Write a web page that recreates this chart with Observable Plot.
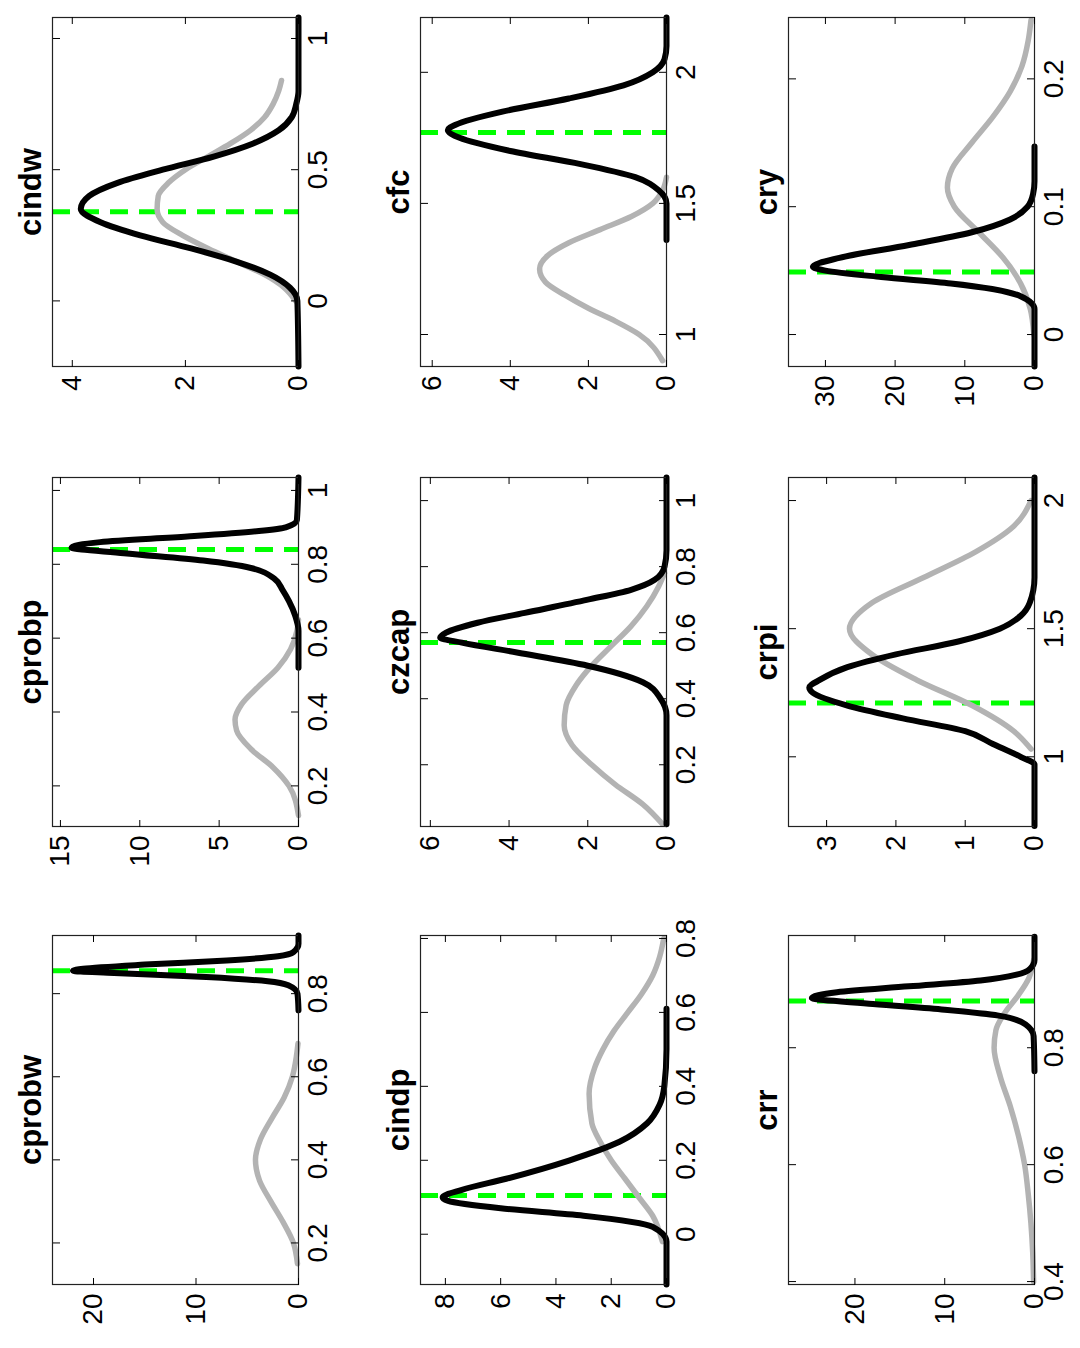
<!DOCTYPE html>
<html>
<head>
<meta charset="UTF-8" />
<script src="https://cdn.jsdelivr.net/npm/d3@7"></script>
<script src="https://cdn.jsdelivr.net/npm/@observablehq/plot@0.6"></script>
<style>
  body { margin: 0; width: 1080px; height: 1348px; overflow: hidden; background: #fff; }
  #fig { position: absolute; left: 0; top: 0; width: 1348px; height: 1080px;
         transform-origin: 0 0; transform: translateY(1348px) rotate(-90deg); }
  #fig svg { position: absolute; font-family: "Liberation Sans", Arial, sans-serif; }
</style>
</head>
<body>
<div id="fig"></div>
<script>
// prior (grey) and posterior (black) curves, [parameter, density]
const cprobwPrior = [[0.15,0.1],[0.2,0.5],[0.25,1.5],[0.3,2.7],[0.35,3.8],[0.4,4.2],[0.45,3.7],[0.5,2.6],[0.55,1.4],[0.6,0.6],[0.65,0.2],[0.68,0.05]];
const cprobwPost = [[0.76,0],[0.8,0.1],[0.82,1],[0.83,3],[0.84,9],[0.85,18],[0.855,22],[0.86,21],[0.87,15],[0.88,7],[0.89,2],[0.9,0.5],[0.92,0],[0.94,0]];
const cprobpPrior = [[0.12,0],[0.2,0.6],[0.25,1.6],[0.3,3],[0.35,3.9],[0.38,4],[0.42,3.6],[0.47,2.5],[0.52,1.3],[0.57,0.5],[0.62,0.1],[0.65,0]];
const cprobpPost = [[0.52,0],[0.62,0],[0.66,0.2],[0.7,0.6],[0.73,1],[0.76,1.5],[0.79,3],[0.81,6],[0.83,11],[0.845,14.3],[0.86,12.5],[0.875,7],[0.89,2.5],[0.9,0.8],[0.92,0.1],[1.035,0]];
const cindwPrior = [[0,0.05],[0.05,0.25],[0.1,0.6],[0.15,1.1],[0.2,1.6],[0.25,2.05],[0.3,2.4],[0.35,2.5],[0.4,2.48],[0.45,2.3],[0.5,2.0],[0.55,1.6],[0.6,1.2],[0.65,0.85],[0.7,0.6],[0.75,0.45],[0.8,0.35],[0.84,0.3]];
const cindwPost = [[-0.25,0],[0,0.02],[0.05,0.15],[0.1,0.5],[0.15,1.1],[0.2,1.9],[0.25,2.8],[0.3,3.5],[0.35,3.85],[0.4,3.7],[0.45,3.2],[0.5,2.4],[0.55,1.5],[0.6,0.8],[0.65,0.35],[0.7,0.12],[0.75,0.04],[0.8,0],[1.08,0]];
const cindpPrior = [[-0.02,0.15],[0.05,0.5],[0.1,1],[0.15,1.5],[0.2,2.0],[0.25,2.4],[0.3,2.7],[0.38,2.8],[0.45,2.6],[0.5,2.3],[0.55,1.9],[0.6,1.4],[0.65,0.9],[0.7,0.5],[0.75,0.25],[0.8,0.1]];
const cindpPost = [[-0.136,0],[-0.02,0],[0.02,0.5],[0.05,3],[0.07,6],[0.09,7.9],[0.1,8.1],[0.12,7.4],[0.15,5.8],[0.2,3.5],[0.25,1.7],[0.3,0.7],[0.35,0.25],[0.4,0.08],[0.5,0],[0.61,0]];
const czcapPrior = [[0.02,0.1],[0.08,0.6],[0.14,1.3],[0.2,1.9],[0.26,2.4],[0.32,2.6],[0.38,2.55],[0.44,2.3],[0.5,1.9],[0.56,1.4],[0.62,0.9],[0.68,0.5],[0.74,0.2],[0.78,0.05]];
const czcapPost = [[0.02,0],[0.35,0],[0.4,0.15],[0.45,0.6],[0.5,2],[0.54,3.8],[0.57,5.2],[0.585,5.75],[0.6,5.6],[0.63,4.8],[0.66,3.6],[0.7,2],[0.73,0.9],[0.76,0.3],[0.8,0.05],[0.85,0],[1.07,0]];
const cfcPrior = [[0.9,0.1],[1.0,0.7],[1.05,1.3],[1.1,2],[1.15,2.6],[1.2,3.1],[1.25,3.25],[1.3,3.05],[1.35,2.5],[1.4,1.7],[1.45,0.9],[1.5,0.35],[1.55,0.1],[1.6,0]];
const cfcPost = [[1.36,0],[1.5,0],[1.55,0.2],[1.6,0.8],[1.65,2.2],[1.7,4],[1.75,5.3],[1.78,5.6],[1.8,5.4],[1.85,4.2],[1.9,2.5],[1.95,1.1],[2.0,0.35],[2.05,0.05],[2.1,0],[2.209,0]];
const crrPrior = [[0.4,0.1],[0.45,0.2],[0.5,0.4],[0.55,0.7],[0.6,1.1],[0.65,1.8],[0.7,2.7],[0.75,3.8],[0.8,4.5],[0.83,4.3],[0.86,3.3],[0.89,1.8],[0.92,0.6],[0.95,0.1]];
const crrPost = [[0.76,0],[0.82,0.1],[0.84,1],[0.855,4],[0.865,10],[0.875,18],[0.885,24.8],[0.895,22],[0.905,14],[0.915,6],[0.925,2],[0.935,0.5],[0.95,0],[0.99,0]];
const crpiPrior = [[1.03,0.05],[1.1,0.3],[1.2,0.9],[1.3,1.7],[1.4,2.35],[1.5,2.67],[1.6,2.35],[1.7,1.6],[1.8,0.85],[1.9,0.3],[2.0,0.05]];
const crpiPost = [[0.73,0],[0.97,0],[1.0,0.2],[1.05,0.6],[1.1,1.0],[1.15,1.9],[1.2,2.7],[1.25,3.2],[1.27,3.25],[1.3,3.1],[1.35,2.7],[1.4,2.0],[1.45,1.1],[1.5,0.5],[1.55,0.2],[1.6,0.07],[1.7,0],[2.09,0]];
const cryPrior = [[0,0.1],[0.02,0.6],[0.04,2],[0.06,4.5],[0.08,8],[0.1,11.5],[0.115,12.5],[0.13,11.8],[0.15,9],[0.17,6],[0.19,3.5],[0.21,1.8],[0.23,0.9],[0.246,0.5]];
const cryPost = [[-0.025,0],[0.02,0],[0.03,2],[0.04,12],[0.045,22],[0.05,30],[0.053,31.8],[0.06,28],[0.07,18],[0.08,9],[0.09,3.5],[0.1,1],[0.11,0.2],[0.12,0],[0.147,0]];

const names = ["cprobw","cprobp","cindw","cindp","czcap","cfc","crr","crpi","cry"];
const priors = [cprobwPrior,cprobpPrior,cindwPrior,cindpPrior,czcapPrior,cfcPrior,crrPrior,crpiPrior,cryPrior];
const posts = [cprobwPost,cprobpPost,cindwPost,cindpPost,czcapPost,cfcPost,crrPost,crpiPost,cryPost];
const modes = [0.855,0.84,0.34,0.105,0.57,1.77,0.88,1.21,0.049];
const xDomains = [[0.1,0.94],[0.09,1.035],[-0.25,1.08],[-0.136,0.808],[0.013,1.07],[0.878,2.209],[0.395,0.992],[0.728,2.09],[-0.025,0.248]];
const yDomains = [[0,24],[0,15.5],[0,4.35],[0,8.9],[0,6.25],[0,6.3],[0,27.4],[0,3.55],[0,35.3]];
const xTicks = [[0.2,0.4,0.6,0.8],[0.2,0.4,0.6,0.8,1],[0,0.5,1],[0,0.2,0.4,0.6,0.8],[0.2,0.4,0.6,0.8,1],[1,1.5,2],[0.4,0.6,0.8],[1,1.5,2],[0,0.1,0.2]];
const yTicks = [[0,10,20],[0,5,10,15],[0,2,4],[0,2,4,6,8],[0,2,4,6],[0,2,4,6],[0,10,20],[0,1,2,3],[0,10,20,30]];

const colX = [63, 521, 981], rowY = [52, 420, 788];
const mL = 70, mT = 50, mR = 20, mB = 50;
const fig = document.getElementById("fig");

names.forEach((name, i) => {
  const r = Math.floor(i / 3), c = i % 3;
  const fw = 349, fh = 246;
  const hide = () => "";
  const fmt = d => String(d);
  const plot = Plot.plot({
    width: fw + mL + mR, height: fh + mT + mB,
    marginLeft: mL, marginTop: mT, marginRight: mR, marginBottom: mB,
    x: { domain: xDomains[i] }, y: { domain: yDomains[i] },
    style: { fontSize: "28px", color: "#000", background: "transparent" },
    marks: [
      Plot.ruleX([modes[i]], { stroke: "#00ff00", strokeWidth: 5, strokeDasharray: "18,11" }),
      Plot.line(priors[i], { x: d => d[0], y: d => d[1], stroke: "#b3b3b3", strokeWidth: 5.5, curve: "monotone-x" }),
      Plot.line(posts[i], { x: d => d[0], y: d => d[1], stroke: "#000", strokeWidth: 6, curve: "monotone-x" }),
      Plot.frame({ stroke: "#222", strokeWidth: 1.2 }),
      Plot.axisX(xTicks[i], { anchor: "bottom", tickSize: -7, tickPadding: 16, label: null, fontSize: 28, tickFormat: fmt }),
      Plot.axisX(xTicks[i], { anchor: "top", tickSize: -7, label: null, tickFormat: hide }),
      Plot.axisY(yTicks[i], { anchor: "left", tickSize: -7, tickPadding: 16, label: null, fontSize: 28, tickFormat: fmt }),
      Plot.axisY(yTicks[i], { anchor: "right", tickSize: -7, label: null, tickFormat: hide }),
      Plot.text([name], { frameAnchor: "top", dy: -12, lineAnchor: "bottom", fontSize: 31, fontWeight: "bold", fill: "#000" })
    ]
  });
  plot.style.left = (colX[c] - mL) + "px";
  plot.style.top = (rowY[r] - mT) + "px";
  fig.append(plot);
});
</script>
</body>
</html>
